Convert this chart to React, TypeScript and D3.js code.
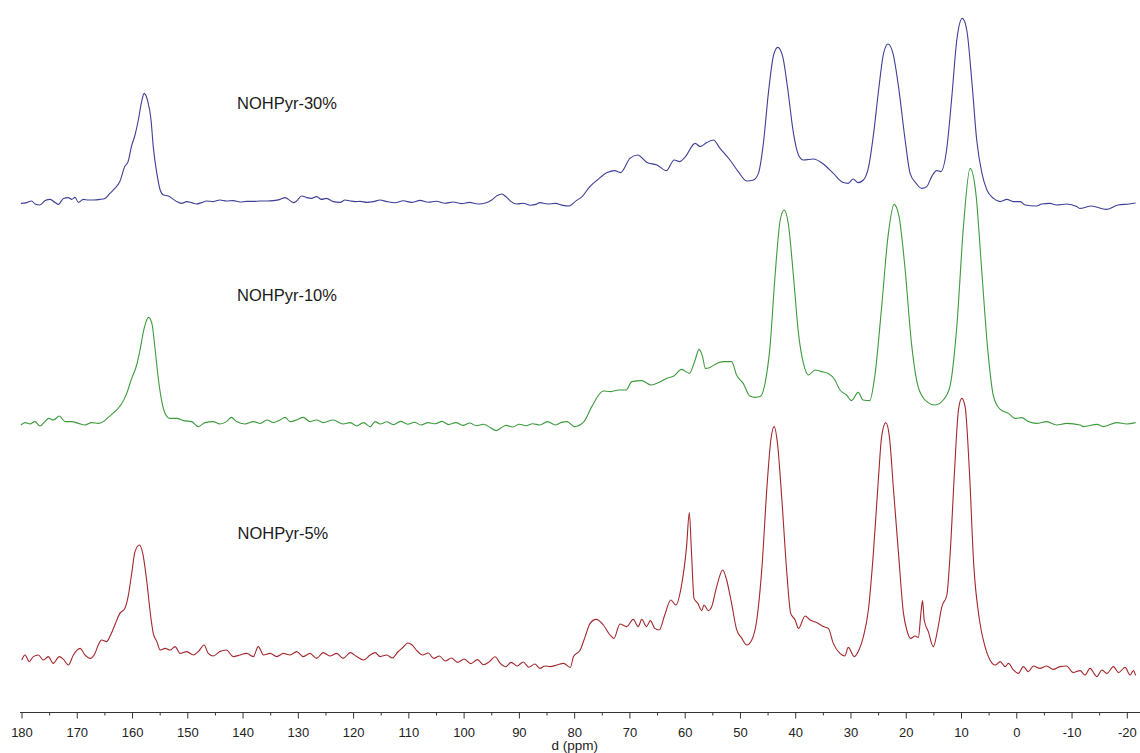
import React from "react";
import * as d3 from "d3";

// ppm, intensity (relative to each trace's own baseline)
const spectrum30: [number, number][] = [
  [180.2,0.3],[179.15,0.7],[178.25,1.5],[177.65,0],[176.75,-0.5],[175.8,1.7],[174.9,2.3],[174.0,0.7],[173.4,-0.2],[172.5,2.8],[171.6,3.2],[171.0,2.3],[170.4,3.3],[169.8,0.8],[168.9,2.3],[168.0,2],[167.1,2],[165.9,2.3],[165.0,2.8],[164.1,5.3],[163.2,7.8],[162.3,11.2],[161.4,18.7],[160.8,21.2],[160.2,28.7],[159.55,34.5],[158.95,42],[158.35,51.2],[157.9,55.3],[157.3,52],[156.65,42],[156.25,28.7],[155.6,15.3],[155.0,7],[154.4,4.5],[153.5,4],[152.6,2.3],[152.0,1.2],[151.1,0.3],[150.2,1.2],[149.3,0.7],[148.4,0],[147.5,0.7],[146.6,1.5],[145.4,1.2],[144.2,2],[143.0,1.5],[141.8,1.7],[140.55,1],[139.35,1.3],[138.1,1.3],[136.9,1.5],[135.7,1.5],[134.5,1.7],[133.3,2.3],[132.4,3.2],[131.5,1.7],[130.9,0.7],[130.3,1.5],[129.4,4],[128.5,3.2],[127.6,2.8],[126.7,3.7],[125.8,2.3],[124.9,2.8],[123.7,1.2],[122.45,0.8],[121.55,2],[120.6,1.5],[119.7,1.2],[118.8,1.3],[117.6,0.8],[116.4,1.2],[115.2,2],
  [114,1.2],[112.5,0.6],[111,1.6],[109.5,0.8],[108,1.8],[106.5,0.9],[105,1.4],[103.5,0.4],[102,1.0],[100.5,0.2],[99,0.8],[97.5,0.0],[96,0.6],[95,2.0],[94,4.2],[93.2,5.0],[92.4,3.6],[91.5,1.2],[90.5,0.0],[89.3,0.4],[88,-0.6],[87,-0.2],
  [86.3,0.7],[84.9,0],[83.5,0.3],[82.1,-0.7],[81.1,-1],[79.7,1.7],[78.65,3.7],[77.25,8.7],[75.9,12],[74.1,15.7],[72.8,16.7],[71.7,15.7],[70.0,22.8],[68.6,24.5],[66.9,20.7],[65.1,19.5],[63.4,16.7],[62.0,22],[61.0,21.2],[59.95,23.7],[58.2,30.3],
  [57.3,28.7],[56.1,30.7],[54.9,32],[53.7,27.8],[51.9,22],[50.4,16.2],[48.85,11.5],[47.65,12],[46.75,15.3],[45.85,30.3],[44.95,55.3],[44.0,74.5],[43.25,78.3],[42.35,73.7],[41.5,58.7],[40.4,35.3],[39.5,24.5],[38.6,22],[36.8,22.5],[35.0,20],[33.2,15.3],[31.4,10.7],[30.5,10.3],[29.6,12.5],[28.7,10.7],[27.75,12],[26.8,18.7],[25.9,35.3],[25.0,57],[24.1,75.3],[23.3,80],[22.4,75.3],[21.4,58.7],[20.2,32],[19.3,15.3],[18.2,10.3],[17.2,7.8],[16.3,8.7],[15.4,13.7],[14.5,16.7],[13.75,16.2],[12.7,27],[11.8,52],[10.85,82],[9.85,92.8],[9.05,87],[8.1,60.3],[7.25,32],[6.3,15.3],[5.4,7],[4.2,2.8],[3.0,1.2],[1.8,2.3],[0.6,1.2],[-0.65,1.2],[-1.5,-0.5],[-3.6,-1],[-4.5,0],[-6.0,0.3],[-7.2,-0.5],[-9.05,0],[-10.85,-1.3],[-11.4,-2.2],[-13.5,-1],[-16.2,-2.7],[-18.3,-0.5],[-20.4,0],[-21.5,0.5],
];

const spectrum10: [number, number][] = [
  [180.2,-1],[179.45,0.2],[178.55,-0.5],[177.65,0.7],[176.75,-1.5],[175.85,0.7],[175.2,2.3],[174.3,1.5],[173.25,3.5],[172.2,0.7],[171.0,0.7],[169.8,-0.2],[168.6,-1],[167.4,0.2],[166.2,-0.2],[165.3,0.7],[164.4,2.8],[163.2,5.7],[162.0,9.5],[161.05,14.8],[160.15,22.3],[159.25,29],[158.65,36.5],[157.9,47.3],[157.1,52.8],[156.5,49.8],[155.9,36.5],[155.3,21.5],[154.7,10.7],[154.1,4.8],[153.2,2.3],[152.0,2.3],[150.8,1.2],[149.3,0.7],[148.1,-1.8],[146.9,0.2],[145.4,0.7],[144.2,-0.5],[143.0,0.7],[142.1,2.8],[141.2,0.7],[139.65,-0.5],[138.15,0.7],[136.9,-0.2],[135.7,1.5],[134.5,0.2],[133.3,1.5],[132.4,2.8],[131.5,0.7],[130.3,1.5],[129.1,2.8],[127.9,0.7],[126.7,1.5],[125.5,0.2],[123.7,1.5],[121.9,-0.5],[120.6,0.2],[119.45,-1.5],[118.2,0.2],[117.0,-1.8],[116.1,0.7],[115.2,-0.5],
  [114,0.6],[112.8,-0.8],[111.5,0.8],[110.2,-0.6],[109,0.4],[107.8,-1.0],[106.5,0.2],[105.2,-0.4],[104,0.8],[102.8,-0.8],[101.5,0.2],[100.2,-1.2],[99,0.0],[97.8,-1.4],[96.5,-0.6],[95.3,-2.2],[94.2,-3.8],[93.3,-2.4],[92.4,-1.2],[91.2,-2.0],[90,-0.6],[88.8,-1.4],[87.6,-0.4],
  [86.3,-1],[84.9,0.7],[83.5,-1],[82.5,0.2],[81.4,0.7],[80.0,-1.8],[78.3,0.7],[76.9,8.2],[74.8,16],[73.45,15.7],[72.05,16.5],[70.7,16.5],[69.65,20.7],[67.9,21.2],[66.2,19],[64.8,20.2],[63.4,22.3],[62.05,23.5],[60.65,26.8],[59.25,24.8],[58.2,31.5],[57.5,36.8],[56.85,33.2],[56.35,27.3],
  [55.5,27.8],[54.3,29.8],[53.1,30.7],[51.6,30.7],[50.7,24],[49.5,19.8],[48.3,13.5],[47.35,12.8],[46.45,13.2],[45.55,19.8],[44.65,38.2],[43.75,73.2],[42.8,101.5],[42.1,106.5],[41.35,99.8],[40.4,73.2],[39.5,44.8],[38.6,29.8],[37.7,24],[36.5,26.5],[35.3,25.7],[34.1,24.8],[32.9,21.5],[32.0,16.5],[30.8,14],[29.9,11.2],[28.7,15.3],[27.8,11.5],[26.6,11.2],[25.7,23.2],[24.5,56.5],[23.3,93.2],[22.2,109.3],[21.3,103.2],[20.25,78.2],[19.05,39.8],[17.85,18.2],[16.3,10.7],[14.8,9],[13.3,11.5],[12.1,18.2],[10.85,48.2],[9.65,98.2],[8.45,127.3],[7.4,114.8],[6.35,76.5],[5.3,38.2],[4.2,13.2],[3.0,6.8],[1.5,4.8],[0.3,2.3],[-0.9,2.7],[-2.1,0.7],[-3.6,-0.2],[-5.4,0.7],[-7.2,-1],[-9.05,-0.2],[-11.45,-1],[-12.05,-1.8],[-14.5,-0.7],[-15.7,-1.8],[-18.1,0.2],[-19.9,-0.5],[-21.5,0.2],
];

const spectrum5: [number, number][] = [
  [180.05,0],[179.45,2.5],[178.7,-0.8],[177.95,1.7],[177.05,2.5],[176.15,0],[175.25,1.7],[174.35,-1.7],[173.25,1.7],[172.5,0.3],[171.6,-2.5],[170.7,2.5],[169.5,5.8],[168.6,2.5],[167.7,0.8],[166.8,3.3],[166.2,7.5],[165.6,10],[164.7,9.2],[164.1,11.7],[163.2,17.5],[162.3,23.3],[161.4,25.8],[160.8,31.7],[160.15,43.3],[159.55,54.2],[158.75,57.5],[158.15,53.3],[157.45,40],[156.85,25],[156.25,13.3],[155.6,9.2],[155.0,5],[154.1,5.8],[153.2,5],[152.3,6.7],[151.4,3.3],[150.2,4.2],[149.0,2.5],[148.1,4.2],[147.05,7.5],[146.3,3.3],[145.4,2],[144.2,4.2],[143.0,5],[141.8,1.7],[140.55,2.5],[139.35,3.3],[138.15,1.7],[137.25,6.7],[136.3,2.5],[135.1,3.3],[133.9,1.7],[132.7,3.3],[131.5,2.5],[130.3,4.2],[129.1,1.7],[127.9,3.3],[126.7,0.8],[125.5,3.7],[124.3,2],[123.05,3.3],[121.9,0.8],[120.6,3.7],[119.45,1.7],[118.2,0],[117.0,2.5],[116.1,3.7],[115.2,1.7],
  [114,2.5],[113,1.0],[112,4.0],[111,6.5],[110.2,8.5],[109.4,7.5],[108.5,4.5],[107.5,2.5],[106.5,3.5],[105.5,0.8],[104.5,2.0],[103.4,-0.5],[102.3,1.0],[101.2,-1.2],[100,0.5],[98.8,-1.8],[97.6,0.2],[96.5,-2.4],[95.4,-0.8],[94.4,1.6],[93.5,-1.6],[92.5,-3.4],[91.5,-1.2],[90.4,-3.0],[89.3,-1.0],[88.3,-3.6],[87.2,-2.0],
  [86.3,-4.2],[85.35,-3],[84.45,-3.3],[83.2,-2.5],[82.0,-1.7],[80.8,-3.7],[80.2,1.7],[79.0,5],[78.1,11.7],[77.2,18.3],[76.1,20.3],[74.8,17.5],[73.6,12.5],[72.9,10.8],[71.8,18],[70.6,16.7],[69.4,20.3],[68.5,16.7],[67.85,20.3],[67.0,16.7],[66.3,19.7],[65.5,15.8],[64.7,15],[63.7,22.5],[62.6,30],[61.7,27.5],[60.7,36.7],[59.75,56.7],[59.25,73.7],[58.85,53.3],[58.4,30.8],[57.7,28.3],[57.0,24.7],[56.6,27.5],[55.8,24.7],[55.2,26.7],[54.3,36.7],[53.2,45],[52.5,40],[51.6,28.3],[50.7,15.3],[49.75,10.8],[48.85,7.5],[47.95,10],[47.05,20],[46.1,46.7],[45.2,86.7],[44.5,110],[43.9,116.7],[43.3,108.3],[42.5,80],[41.6,43.3],[40.9,23.3],[40.1,20],[39.5,15.8],[38.3,22],[37.4,20],[36.2,18.7],[35.0,16.7],[34.1,15.8],[33.2,8.3],[32.0,3.3],[31.1,2],[30.5,6.3],
  [29.4,1.7],[28.6,4.7],[27.75,11.7],[26.85,25],[25.95,53.3],[25.05,90],[24.45,111.7],[23.7,118.7],[23.05,111.7],[22.3,85],[21.4,53.3],[20.5,23.3],[19.9,15],[19.2,10.8],[18.4,12],[17.8,11.3],[17.35,23.3],[17.05,29.7],[16.75,20],[16.0,14.2],[15.1,6.7],[14.35,14.7],[13.55,26.7],[12.65,32.5],[12.05,53.3],[11.35,90],[10.55,125],[9.95,130.8],[9.35,126.7],[8.55,93.3],[7.8,48.3],[6.75,20],[5.75,6.7],[4.85,0],[3.9,-2.5],[3.0,-0.8],[2.1,-3.3],[1.5,-1.7],[0.6,-5],[-0.3,-6.7],[-1.2,-3.3],[-2.1,-5.8],[-3.0,-3],[-4.2,-4.2],[-5.4,-3],[-6.6,-4.7],[-7.8,-3.3],[-9.0,-3],[-10.2,-6.3],[-11.45,-5.3],[-12.35,-7.5],[-13.25,-4.2],[-14.5,-8.3],[-15.4,-5],[-16.3,-6.7],[-17.5,-3.3],[-18.4,-6.3],[-19.6,-3.7],[-20.5,-7.5],[-21.1,-5.3],[-21.5,-7.7],
];

const seriesNames = ["NOHPyr-30%", "NOHPyr-10%", "NOHPyr-5%"];
const seriesData = [spectrum30, spectrum10, spectrum5];
const seriesOffsets = [254, 144.5, 26];
const labelAnchors: [number, number][] = [[141.1, 47.5], [141.1, 61], [141.0, 60.5]];
const seriesColors = ["#3f3f97", "#3d9b3d", "#a3282d"];

const majorTicks = d3.range(180, -21, -10);
const minorTicks = d3.range(175, -20, -10);
const axisTitle = "d (ppm)";

const W = 1140;
const H = 753;
const axisY = 712;

export default function App() {
  const x = d3.scaleLinear().domain([180, -20]).range([22, 1127.3]);
  const y = d3.scaleLinear().domain([0, 356]).range([axisY, 0]);
  const fmt = (v: number) => (v < 0 ? "-" + Math.abs(v) : String(v));

  return (
    <svg
      width={W}
      height={H}
      style={{ position: "absolute", left: 0, top: 0, background: "#fff" }}
      fontFamily="'Liberation Sans', Arial, sans-serif"
    >
      <rect x={0} y={0} width={W} height={H} fill="#fff" />
      {seriesData.map((data, i) => {
        const line = d3
          .line<[number, number]>()
          .x((d) => x(d[0]))
          .y((d) => y(d[1] + seriesOffsets[i]))
          .curve(d3.curveMonotoneX);
        return (
          <path
            key={seriesNames[i]}
            d={line(data) || ""}
            fill="none"
            stroke={seriesColors[i]}
            strokeWidth={1.1}
            strokeLinejoin="round"
          />
        );
      })}
      {seriesNames.map((name, i) => (
        <text
          key={name}
          x={x(labelAnchors[i][0])}
          y={y(labelAnchors[i][1] + seriesOffsets[i])}
          fontSize={16.5}
          fill="#1a1a1a"
        >
          {name}
        </text>
      ))}
      <line x1={20} x2={1140} y1={axisY + 0.5} y2={axisY + 0.5} stroke="#333" strokeWidth={1} />
      {majorTicks.map((t) => (
        <g key={"M" + t}>
          <line x1={x(t)} x2={x(t)} y1={axisY} y2={axisY + 6.5} stroke="#333" strokeWidth={1} />
          <text x={x(t)} y={axisY + 24.5} fontSize={13} textAnchor="middle" fill="#222">
            {fmt(t)}
          </text>
        </g>
      ))}
      {minorTicks.map((t) => (
        <line key={"m" + t} x1={x(t)} x2={x(t)} y1={axisY} y2={axisY + 3.5} stroke="#333" strokeWidth={1} />
      ))}
      <text x={x(80)} y={749.5} fontSize={13.5} textAnchor="middle" fill="#222">
        {axisTitle}
      </text>
    </svg>
  );
}
